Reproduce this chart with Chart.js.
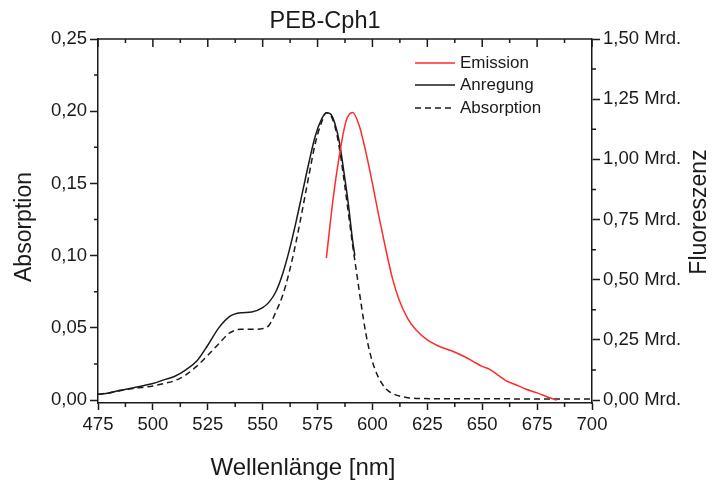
<!DOCTYPE html>
<html>
<head>
<meta charset="utf-8">
<script src="https://cdn.jsdelivr.net/npm/chart.js@4"></script>
<style>
  body { margin: 0; background: #fff; }
</style>
</head>
<body>
<canvas id="c" width="715" height="482"></canvas>
<script>
// Wellenlänge in nm, Absorption (links) und Fluoreszenz in Mrd. (rechts)
const anregungX = [475, 480, 485, 490, 495, 500, 505, 510, 515, 520, 525, 530, 535, 540, 545, 550, 553, 556, 559, 562, 565, 568, 571, 574, 577, 579, 581, 583, 585, 587, 589, 591, 592];
const anregungY = [0.004, 0.005, 0.0068, 0.0082, 0.0098, 0.0115, 0.014, 0.0165, 0.021, 0.027, 0.038, 0.050, 0.058, 0.0605, 0.061, 0.064, 0.068, 0.075, 0.087, 0.103, 0.122, 0.143, 0.164, 0.183, 0.195, 0.199, 0.198, 0.191, 0.178, 0.158, 0.136, 0.110, 0.100];

const absorptionX = [475, 480, 485, 490, 495, 500, 505, 510, 515, 520, 525, 530, 535, 540, 545, 550, 553, 556, 559, 562, 565, 568, 571, 574, 577, 579, 581, 583, 585, 587, 589, 591, 593, 595, 597, 599, 601, 603, 606, 610, 615, 620, 630, 650, 670, 700];
const absorptionY = [0.004, 0.005, 0.0065, 0.0078, 0.0088, 0.0098, 0.0115, 0.0135, 0.0175, 0.0235, 0.031, 0.039, 0.0465, 0.049, 0.049, 0.0495, 0.052, 0.061, 0.072, 0.088, 0.108, 0.131, 0.155, 0.178, 0.193, 0.199, 0.197, 0.189, 0.174, 0.153, 0.130, 0.107, 0.086, 0.065, 0.046, 0.032, 0.022, 0.015, 0.008, 0.004, 0.002, 0.0012, 0.001, 0.001, 0.0008, 0.0008];

const emissionX = [579, 582, 585, 588, 591, 594, 597, 600, 603, 606, 609, 612, 616, 620, 625, 630, 636, 642, 646, 650, 653, 657, 661, 665, 670, 675, 680, 684];
const emissionY = [0.59, 0.83, 1.02, 1.16, 1.195, 1.14, 1.03, 0.90, 0.76, 0.63, 0.51, 0.42, 0.34, 0.29, 0.25, 0.225, 0.205, 0.18, 0.16, 0.14, 0.13, 0.105, 0.08, 0.065, 0.045, 0.03, 0.012, 0.0];

const xTicks = [475, 500, 525, 550, 575, 600, 625, 650, 675, 700];
const yTicks = [0, 0.05, 0.10, 0.15, 0.20, 0.25];
const y2Ticks = [0, 0.25, 0.5, 0.75, 1.0, 1.25, 1.5];

const pts = (xs, ys) => xs.map((x, i) => ({ x: x, y: ys[i] }));
const comma = (v) => v.toFixed(2).replace('.', ',');
const FONT = "'Liberation Sans', Arial, sans-serif";
const INK = '#1a1a1a';

const extras = {
  id: 'extras',
  afterDraw(chart) {
    const { ctx, chartArea: a, scales } = chart;
    const x = scales.x, y = scales.y, y2 = scales.y2;
    ctx.save();
    ctx.strokeStyle = INK;
    ctx.lineWidth = 1.5;
    // Rahmen oben
    ctx.beginPath();
    ctx.moveTo(a.left, a.top);
    ctx.lineTo(a.right, a.top);
    ctx.stroke();
    ctx.beginPath();
    for (let v = 475; v <= 700; v += 12.5) {
      const px = x.getPixelForValue(v);
      const major = (v - 475) % 25 === 0;
      ctx.moveTo(px, a.top);
      ctx.lineTo(px, a.top + (major ? 8 : 4));
      if (!major) {
        ctx.moveTo(px, a.bottom);
        ctx.lineTo(px, a.bottom + 4);
      }
    }
    for (let v = 0.025; v < 0.25; v += 0.05) {
      const py = y.getPixelForValue(v);
      ctx.moveTo(a.left, py);
      ctx.lineTo(a.left - 4, py);
    }
    for (let v = 0.125; v < 1.5; v += 0.25) {
      const py = y2.getPixelForValue(v);
      ctx.moveTo(a.right, py);
      ctx.lineTo(a.right + 4, py);
    }
    ctx.stroke();

    // Titel
    ctx.fillStyle = INK;
    ctx.textAlign = 'center';
    ctx.textBaseline = 'alphabetic';
    ctx.font = '23.5px ' + FONT;
    ctx.fillText('PEB-Cph1', 325, 28);
    ctx.font = '24px ' + FONT;
    ctx.fillText('Wellenlänge [nm]', 303, 475);

    ctx.font = '23px ' + FONT;
    ctx.textBaseline = 'middle';
    ctx.save();
    ctx.translate(25, 227);
    ctx.rotate(-Math.PI / 2);
    ctx.fillText('Absorption', 0, 0);
    ctx.restore();
    ctx.save();
    ctx.translate(700, 212);
    ctx.rotate(-Math.PI / 2);
    ctx.fillText('Fluoreszenz', 0, 0);
    ctx.restore();

    // Legende
    ctx.font = '17px ' + FONT;
    ctx.textAlign = 'left';
    const rows = [63, 85, 108];
    chart.data.datasets.forEach((ds, i) => {
      const ly = rows[i];
      ctx.strokeStyle = ds.borderColor;
      ctx.lineWidth = ds.borderWidth;
      ctx.setLineDash(ds.borderDash || []);
      ctx.beginPath();
      ctx.moveTo(415, ly);
      ctx.lineTo(455, ly);
      ctx.stroke();
      ctx.setLineDash([]);
      ctx.fillText(ds.label, 460, ly);
    });
    ctx.restore();
  }
};

new Chart(document.getElementById('c'), {
  type: 'line',
  data: {
    datasets: [
      {
        label: 'Emission',
        data: pts(emissionX, emissionY),
        yAxisID: 'y2',
        borderColor: '#ff2a2a',
        borderWidth: 1.5,
        pointRadius: 0,
        cubicInterpolationMode: 'monotone',
        fill: false
      },
      {
        label: 'Anregung',
        data: pts(anregungX, anregungY),
        yAxisID: 'y',
        borderColor: INK,
        borderWidth: 1.5,
        pointRadius: 0,
        cubicInterpolationMode: 'monotone',
        fill: false
      },
      {
        label: 'Absorption',
        data: pts(absorptionX, absorptionY),
        yAxisID: 'y',
        borderColor: INK,
        borderWidth: 1.5,
        borderDash: [6, 4],
        pointRadius: 0,
        cubicInterpolationMode: 'monotone',
        fill: false
      }
    ]
  },
  options: {
    responsive: false,
    animation: false,
    devicePixelRatio: 1,
    layout: { padding: { top: 39, left: 0, right: 0, bottom: 0 } },
    plugins: {
      legend: { display: false },
      title: { display: false },
      tooltip: { enabled: false }
    },
    scales: {
      x: {
        type: 'linear',
        position: 'bottom',
        min: 475,
        max: 700,
        afterFit: (s) => { s.height = 79; },
        afterBuildTicks: (s) => { s.ticks = xTicks.map((v) => ({ value: v })); },
        ticks: {
          font: { family: FONT, size: 18.5 },
          color: INK,
          padding: 4,
          maxRotation: 0,
          callback: (v) => String(v)
        },
        grid: { drawOnChartArea: false, tickLength: 7, tickColor: INK, tickWidth: 1.5 },
        border: { color: INK, width: 1.5 }
      },
      y: {
        position: 'left',
        min: -0.002,
        max: 0.25,
        afterFit: (s) => { s.width = 98; },
        afterBuildTicks: (s) => { s.ticks = yTicks.map((v) => ({ value: v })); },
        ticks: {
          font: { family: FONT, size: 18.5 },
          color: INK,
          padding: 3,
          callback: (v) => comma(v)
        },
        grid: { drawOnChartArea: false, tickLength: 8, tickColor: INK, tickWidth: 1.5 },
        border: { color: INK, width: 1.5 }
      },
      y2: {
        position: 'right',
        min: -0.012,
        max: 1.5,
        afterFit: (s) => { s.width = 123; },
        afterBuildTicks: (s) => { s.ticks = y2Ticks.map((v) => ({ value: v })); },
        ticks: {
          font: { family: FONT, size: 18.5 },
          color: INK,
          padding: 3,
          callback: (v) => comma(v) + ' Mrd.'
        },
        grid: { drawOnChartArea: false, tickLength: 8, tickColor: INK, tickWidth: 1.5 },
        border: { color: INK, width: 1.5 }
      }
    }
  },
  plugins: [extras]
});
</script>
</body>
</html>
